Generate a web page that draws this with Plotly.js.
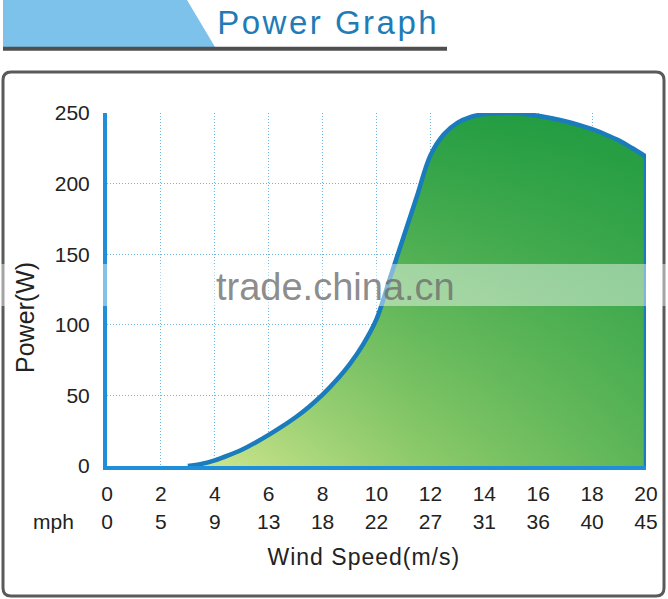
<!DOCTYPE html>
<html>
<head>
<meta charset="utf-8">
<script src="https://cdn.plot.ly/plotly-3.0.1.min.js"></script>
<style>
html,body{margin:0;padding:0;background:#fff;}
#chart{width:668px;height:599px;}
</style>
</head>
<body>
<div id="chart"></div>
<script>
// ---- data ----
const windSpeed = [3, 3.5, 4, 4.5, 5, 5.5, 6, 6.5, 7, 7.5, 8, 8.5, 9, 9.5, 10, 10.5, 11, 11.5, 12,
                   12.5, 13, 13.5, 14, 14.5, 15, 15.5, 16, 16.5, 17, 17.5, 18, 18.5, 19, 19.5, 20];
const powerW    = [0, 1.5, 4, 7.5, 11.5, 16.5, 22, 28, 34.5, 42, 50.5, 60.5, 72, 86, 104, 133, 162, 191, 220,
                   235, 243, 247.2, 249.2, 249.9, 250, 249.3, 248, 246.3, 244.2, 241.6, 238.5, 234.8, 230.5, 225, 219];
const msTicks   = [0, 2, 4, 6, 8, 10, 12, 14, 16, 18, 20];
const mphLabels = ['0', '5', '9', '13', '18', '22', '27', '31', '36', '40', '45'];
const powerTicks = [0, 50, 100, 150, 200, 250];

// ---- layout geometry ----
const W = 668, H = 599;
const M = {l: 107, r: 22, t: 113, b: 133};
const pw = W - M.l - M.r, ph = H - M.t - M.b;
const px = x => (x - M.l) / pw;
const py = y => (H - M.b - y) / ph;

const FONT = 'Liberation Sans, Arial, sans-serif';
const lastX = windSpeed[windSpeed.length - 1];
const lastY = powerW[powerW.length - 1];

const traces = [
  { // base fill, horizontal gradient
    x: windSpeed, y: powerW, type: 'scatter', mode: 'lines',
    line: {width: 0, shape: 'spline', smoothing: 1},
    fill: 'tozeroy',
    fillgradient: {type: 'horizontal', colorscale: [[0, '#d2e790'], [0.5, '#8fcb6b'], [1, '#5cb558']]},
    hoverinfo: 'skip', showlegend: false
  },
  { // darkening toward the top
    x: windSpeed, y: powerW, type: 'scatter', mode: 'lines',
    line: {width: 0, shape: 'spline', smoothing: 1},
    fill: 'tozeroy',
    fillgradient: {type: 'vertical', start: 0, stop: 250,
      colorscale: [[0, 'rgba(20,150,60,0)'], [1, 'rgba(20,150,60,0.85)']]},
    hoverinfo: 'skip', showlegend: false
  },
  { // outline
    x: windSpeed, y: powerW, type: 'scatter', mode: 'lines',
    line: {width: 4.5, color: '#1a7bbd', shape: 'spline', smoothing: 1},
    hoverinfo: 'skip', showlegend: false
  },
  { // right edge (on the mph axis, same scale)
    x: [lastX, lastX], y: [lastY, 0], type: 'scatter', mode: 'lines', xaxis: 'x2',
    line: {width: 4.5, color: '#1a7bbd'},
    hoverinfo: 'skip', showlegend: false
  }
];

// rounded frame path in paper coords
function roundRect(x0, y0, x1, y1, r) {
  const X = px, Y = py;
  return `M ${X(x0 + r)} ${Y(y0)} L ${X(x1 - r)} ${Y(y0)} Q ${X(x1)} ${Y(y0)} ${X(x1)} ${Y(y0 + r)} ` +
         `L ${X(x1)} ${Y(y1 - r)} Q ${X(x1)} ${Y(y1)} ${X(x1 - r)} ${Y(y1)} ` +
         `L ${X(x0 + r)} ${Y(y1)} Q ${X(x0)} ${Y(y1)} ${X(x0)} ${Y(y1 - r)} ` +
         `L ${X(x0)} ${Y(y0 + r)} Q ${X(x0)} ${Y(y0)} ${X(x0 + r)} ${Y(y0)} Z`;
}

const gridStyle = {showgrid: true, gridcolor: '#6db4de', gridwidth: 1, griddash: '1px,2px'};

const layout = {
  width: W, height: H,
  margin: M,
  paper_bgcolor: '#ffffff', plot_bgcolor: 'rgba(0,0,0,0)',
  font: {family: FONT, color: '#222222', size: 21},
  showlegend: false,
  xaxis: Object.assign({
    range: [0, 20], tickvals: msTicks, ticktext: msTicks.map(String),
    zeroline: false, ticks: '',
    showline: true, linecolor: '#1e8fd8', linewidth: 4,
    ticklabelstandoff: 6, tickfont: {size: 21, color: '#222'},
    fixedrange: true
  }, gridStyle),
  xaxis2: {
    overlaying: 'x', anchor: 'y', side: 'bottom',
    range: [0, 20], tickvals: msTicks, ticktext: mphLabels,
    showgrid: false, zeroline: false, ticks: '', showline: false,
    ticklabelstandoff: 41, tickfont: {size: 21, color: '#222'},
    fixedrange: true
  },
  yaxis: Object.assign({
    range: [0, 250], tickvals: powerTicks,
    zeroline: false, ticks: '',
    showline: true, linecolor: '#1e8fd8', linewidth: 4,
    ticklabelstandoff: 9, tickfont: {size: 21, color: '#222'},
    fixedrange: true
  }, gridStyle),
  shapes: [
    // header parallelogram
    {type: 'path', xref: 'paper', yref: 'paper', layer: 'above',
     path: `M ${px(3)} ${py(0)} L ${px(187)} ${py(0)} L ${px(215)} ${py(47)} L ${px(3)} ${py(47)} Z`,
     fillcolor: '#7cc2ea', line: {width: 0}},
    // header underline
    {type: 'line', xref: 'paper', yref: 'paper', layer: 'above',
     x0: px(3), x1: px(447), y0: py(48.7), y1: py(48.7),
     line: {color: '#4f4f4f', width: 4}},
    // frame
    {type: 'path', xref: 'paper', yref: 'paper', layer: 'below',
     path: roundRect(3, 72, 664, 596, 8),
     line: {color: '#5a5a5a', width: 3}, fillcolor: 'rgba(0,0,0,0)'},
    // watermark band
    {type: 'rect', xref: 'paper', yref: 'paper', layer: 'above',
     x0: px(0), x1: px(668), y0: py(264), y1: py(306),
     fillcolor: 'rgba(255,255,255,0.45)', line: {width: 0}}
  ],
  annotations: [
    {text: 'Power Graph', xref: 'paper', yref: 'paper', x: px(328), y: py(23),
     xanchor: 'center', yanchor: 'middle', showarrow: false,
     font: {family: FONT, size: 33, color: '#1f7cb6'}},
    {text: 'Power(W)', xref: 'paper', yref: 'paper', x: px(25), y: py(318),
     xanchor: 'center', yanchor: 'middle', textangle: -90, showarrow: false,
     font: {family: FONT, size: 25, color: '#222'}},
    {text: 'Wind Speed(m/s)', xref: 'paper', yref: 'paper', x: px(364), y: py(557),
     xanchor: 'center', yanchor: 'middle', showarrow: false,
     font: {family: FONT, size: 23, color: '#222'}},
    {text: 'mph', xref: 'paper', yref: 'paper', x: px(53), y: py(521),
     xanchor: 'center', yanchor: 'middle', showarrow: false,
     font: {family: FONT, size: 21, color: '#222'}},
    {text: 'trade.china.cn', xref: 'paper', yref: 'paper', x: px(335), y: py(287),
     xanchor: 'center', yanchor: 'middle', showarrow: false,
     font: {family: FONT, size: 38, color: 'rgba(110,110,110,0.8)'}}
  ]
};

Plotly.newPlot('chart', traces, layout, {staticPlot: true, displayModeBar: false}).then(gd => {
  const spacing = {'Power Graph': '2.5px', 'Wind Speed(m/s)': '1px'};
  gd.querySelectorAll('.annotation-text').forEach(t => {
    const s = spacing[t.textContent];
    if (s) t.style.letterSpacing = s;
  });
});
</script>
</body>
</html>
